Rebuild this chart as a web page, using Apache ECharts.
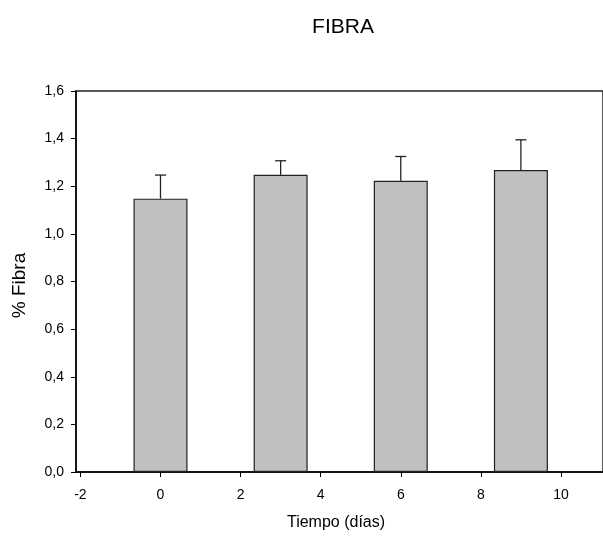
<!DOCTYPE html>
<html>
<head>
<meta charset="utf-8">
<script src="https://cdn.jsdelivr.net/npm/echarts@6/dist/echarts.min.js"></script>
<style>
html,body{margin:0;padding:0;background:#fff;}
#c{width:603px;height:536px;}
</style>
</head>
<body>
<div id="c"></div>
<script>
var days = [0, 3, 6, 9];
var fibra = [1.148, 1.248, 1.223, 1.268];
var fibraErrTop = [1.247, 1.307, 1.325, 1.395];
var xTicks = [-2, 0, 2, 4, 6, 8, 10];
var yTicks = [0, 0.2, 0.4, 0.6, 0.8, 1.0, 1.2, 1.4, 1.6];

var chart = echarts.init(document.getElementById('c'));
var font = 'Liberation Sans, Arial, sans-serif';

var barData = days.map(function(d, i){ return [d, fibra[i]]; });
var errData = days.map(function(d, i){ return [d, fibra[i], fibraErrTop[i]]; });

chart.setOption({
  animation: false,
  title: {
    text: 'FIBRA', left: 338, top: 12, textAlign: 'center',
    textStyle: {fontFamily: font, fontSize: 21, fontWeight: 'normal', color: '#000'}
  },
  grid: {left: 76, top: 91, right: -2, bottom: 64, containLabel: false,
         show: true, borderColor: '#222', borderWidth: 1.5, backgroundColor: 'transparent'},
  xAxis: {
    type: 'value', min: -2.11, max: 11.05,
    name: 'Tiempo (días)', nameLocation: 'middle', nameGap: 43,
    nameTextStyle: {fontFamily: font, fontSize: 16, color: '#000', padding: [0, 0, 0, -7]},
    axisLine: {show: true, onZero: false, lineStyle: {color: '#000', width: 1.5}},
    axisTick: {show: true, inside: false, length: 5, customValues: xTicks, lineStyle: {color: '#000'}},
    axisLabel: {customValues: xTicks, fontFamily: font, fontSize: 14, color: '#000', margin: 16,
      formatter: function(v){ return String(Math.round(v)); }},
    splitLine: {show: false}
  },
  yAxis: {
    type: 'value', min: 0, max: 1.6, interval: 0.2,
    name: '% Fibra', nameLocation: 'middle', nameGap: 47, nameRotate: 90,
    nameTextStyle: {fontFamily: font, fontSize: 19, color: '#000', padding: [0, 0, 0, -8]},
    axisLine: {show: true, onZero: false, lineStyle: {color: '#000', width: 1.5}},
    axisTick: {show: true, inside: false, length: 5, lineStyle: {color: '#000'}},
    axisLabel: {fontFamily: font, fontSize: 14, color: '#000', margin: 12,
      formatter: function(v){ return v.toFixed(1).replace('.', ','); }},
    splitLine: {show: false}
  },
  series: [
    {
      type: 'bar', data: barData, barWidth: 54,
      itemStyle: {color: '#c0c0c0', borderColor: '#222', borderWidth: 1.2},
      z: 2
    },
    {
      type: 'custom', data: errData, z: 3,
      renderItem: function(params, api){
        var x = api.value(0);
        var p0 = api.coord([x, api.value(1)]);
        var p1 = api.coord([x, api.value(2)]);
        var hw = 5.5;
        return {
          type: 'group',
          children: [
            {type: 'line', shape: {x1: p0[0], y1: p0[1], x2: p1[0], y2: p1[1]},
             style: {stroke: '#222', lineWidth: 1.3}},
            {type: 'line', shape: {x1: p1[0] - hw, y1: p1[1], x2: p1[0] + hw, y2: p1[1]},
             style: {stroke: '#222', lineWidth: 1.3}}
          ]
        };
      }
    }
  ]
});
</script>
</body>
</html>
